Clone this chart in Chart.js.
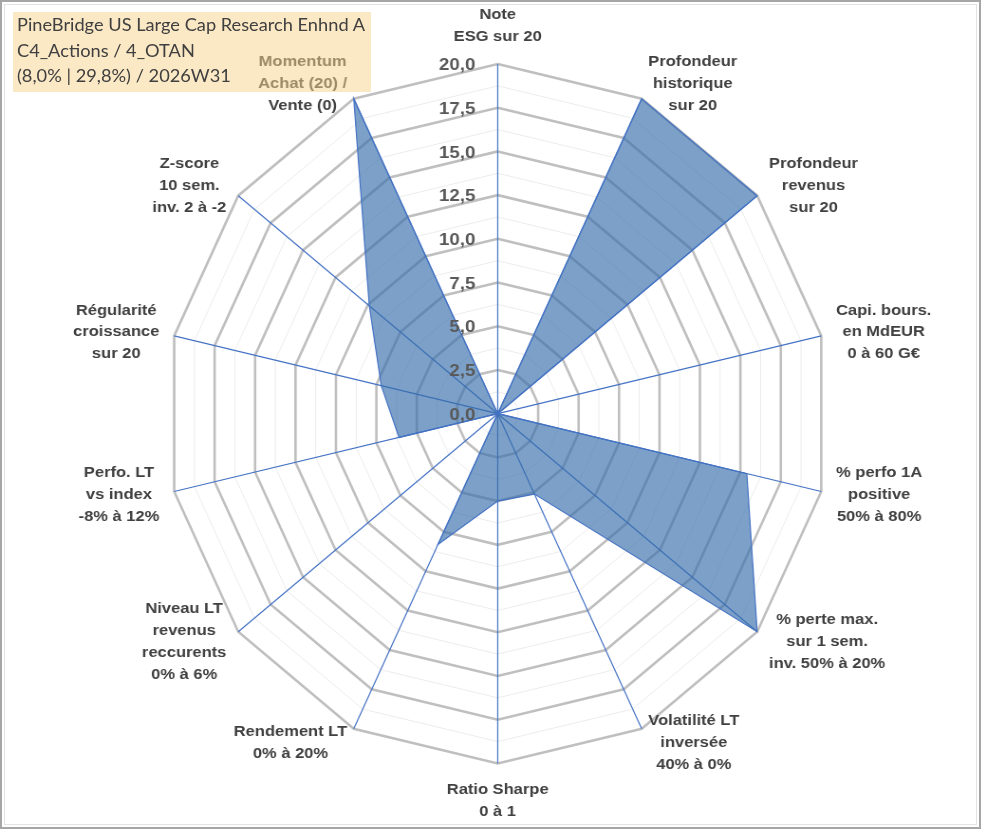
<!DOCTYPE html>
<html>
<head>
<meta charset="utf-8">
<script src="https://cdn.jsdelivr.net/npm/chart.js@4.4.1/dist/chart.umd.min.js"></script>
<style>
html,body{margin:0;padding:0;background:#fff;overflow:hidden;width:991px;height:830px;position:relative}
#c{position:absolute;left:0;top:0;transform:scaleX(0.949);transform-origin:0 0}
#box{position:absolute;left:13px;top:12px;width:358px;height:80px;background:rgba(248,210,140,0.5);z-index:2}
#title{position:absolute;left:17px;top:12px;font-family:Lato,"Open Sans",sans-serif;font-size:17px;line-height:25.5px;color:#404040;white-space:nowrap;transform-origin:0 0;z-index:3}
#title span{display:inline-block}
#frame{position:absolute;left:0;top:0;width:981px;height:829px;border:2px solid #A6A6A6;box-sizing:border-box;z-index:4;pointer-events:none}
#frame2{position:absolute;left:4px;top:4px;width:973px;height:821px;border:1px solid #E3E3E3;box-sizing:border-box;z-index:4;pointer-events:none}
</style>
</head>
<body>
<canvas id="c" width="1045" height="830"></canvas>
<div id="box"></div>
<div id="title"></div>
<div id="frame"></div>
<div id="frame2"></div>
<script>
// ---- data ----
const categories = [
  ["Note", "ESG sur 20"],
  ["Profondeur", "historique", "sur 20"],
  ["Profondeur", "revenus", "sur 20"],
  ["Capi. bours.", "en MdEUR", "0 à 60 G€"],
  ["% perfo 1A", "positive", "50% à 80%"],
  ["% perte max.", "sur 1 sem.", "inv. 50% à 20%"],
  ["Volatilité LT", "inversée", "40% à 0%"],
  ["Ratio Sharpe", "0 à 1"],
  ["Rendement LT", "0% à 20%"],
  ["Niveau LT", "revenus", "reccurents", "0% à 6%"],
  ["Perfo. LT", "vs index", "-8% à 12%"],
  ["Régularité", "croissance", "sur 20"],
  ["Z-score", "10 sem.", "inv. 2 à -2"],
  ["Momentum", "Achat (20) /", "Vente (0)"]
];
const values = [0, 20, 20, 0, 15.4, 20, 5.1, 5.0, 8.3, 0, 6.1, 7.2, 9.9, 20];
const tickLabels = ["0,0", "2,5", "5,0", "7,5", "10,0", "12,5", "15,0", "17,5", "20,0"];
const titleLines = [
  "PineBridge US Large Cap Research Enhnd A",
  "C4_Actions / 4_OTAN",
  "(8,0% | 29,8%) / 2026W31"
];

// ---- layout constants (screen geometry) ----
const SX = 0.949;            // horizontal squeeze of the picture
const CX = 497.7 / SX;       // logical centre x
const CY = 413.7;            // centre y
const R = 349.7;             // radius
const HS = 1.1 / SX;         // text horizontal stretch in logical coords
const LABEL_FONT = 'bold 15px "Liberation Sans", Arial, sans-serif';
const TICK_FONT = 'bold 17px "Liberation Sans", Arial, sans-serif';
const LINE_H = 21.9;
const GAP = 16;

// title box
const titleEl = document.getElementById('title');
titleLines.forEach(t => {
  const d = document.createElement('div');
  const s = document.createElement('span');
  s.textContent = t;
  d.appendChild(s);
  titleEl.appendChild(d);
});
const w0 = titleEl.querySelector('span').getBoundingClientRect().width;
titleEl.style.transform = 'scaleX(' + (348 / w0) + ')';

const geomPlugin = {
  id: 'geom',
  afterLayout(chart) {
    const s = chart.scales.r;
    s.xCenter = CX;
    s.yCenter = CY;
    s.drawingArea = R;
  },
  afterDraw(chart) {
    const s = chart.scales.r;
    const ctx = chart.ctx;
    ctx.save();
    // point labels
    ctx.font = LABEL_FONT;
    ctx.fillStyle = '#404040';
    ctx.textAlign = 'center';
    ctx.textBaseline = 'middle';
    chart.data.labels.forEach((lines, i) => {
      const ang = s.getIndexAngle(i);
      const sn = Math.sin(ang), cs = Math.cos(ang);
      const p = s.getPointPosition(i, R + GAP);
      const widths = lines.map(l => ctx.measureText(l).width * HS);
      const bw = Math.max(...widths);
      const bh = lines.length * LINE_H;
      let bx, top;
      if (Math.abs(sn) < 0.01) {
        bx = p.x;
        top = cs > 0 ? p.y - bh : p.y;
      } else {
        bx = sn > 0 ? p.x + bw / 2 : p.x - bw / 2;
        top = p.y - bh / 2;
      }
      lines.forEach((l, k) => {
        ctx.save();
        ctx.translate(bx, top + LINE_H * (k + 0.5));
        ctx.scale(HS, 1);
        ctx.fillText(l, 0, 0);
        ctx.restore();
      });
    });
    // tick labels
    ctx.font = TICK_FONT;
    ctx.fillStyle = '#595959';
    ctx.textAlign = 'right';
    tickLabels.forEach(t => {
      const v = parseFloat(t.replace(',', '.'));
      const d = s.getDistanceFromCenterForValue(v);
      ctx.save();
      ctx.translate(s.xCenter - 22.3 / SX, s.yCenter - d + 1.5);
      ctx.scale(HS, 1);
      ctx.fillText(t, 0, 0);
      ctx.restore();
    });
    ctx.restore();
  }
};

new Chart(document.getElementById('c'), {
  type: 'radar',
  data: {
    labels: categories,
    datasets: [{
      data: values,
      backgroundColor: 'rgba(54,109,170,0.65)',
      borderColor: '#4472C4',
      borderWidth: 1.2,
      pointRadius: 0,
      pointHoverRadius: 0,
      fill: 'origin',
      tension: 0
    }]
  },
  options: {
    responsive: false,
    animation: false,
    events: [],
    layout: { padding: 0 },
    plugins: { legend: { display: false }, tooltip: { enabled: false } },
    scales: {
      r: {
        min: 0,
        max: 20,
        startAngle: 0,
        ticks: { stepSize: 1.25, display: false },
        pointLabels: { display: false },
        grid: {
          color: c => (Math.abs(c.tick.value / 2.5 - Math.round(c.tick.value / 2.5)) < 1e-6) ? '#BFBFBF' : '#ECECEC',
          lineWidth: c => (Math.abs(c.tick.value / 2.5 - Math.round(c.tick.value / 2.5)) < 1e-6) ? 2.6 : 1
        },
        angleLines: { color: '#4472C4', lineWidth: 1.2 }
      }
    }
  },
  plugins: [geomPlugin]
});
</script>
</body>
</html>
